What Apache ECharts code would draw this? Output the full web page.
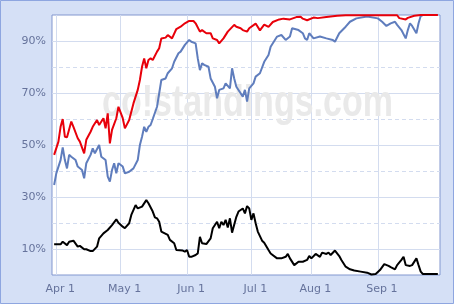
<!DOCTYPE html>
<html>
<head>
<meta charset="utf-8">
<script src="https://cdn.jsdelivr.net/npm/echarts@6/dist/echarts.min.js"></script>
<style>
html,body{margin:0;padding:0;background:#d5e0f6;}
#chart{width:454px;height:304px;}
</style>
</head>
<body>
<div id="chart"></div>
<script>
// Date categories (game-day calendar, All-Star break skipped)
const monthSpans = [['Mar',30,31],['Apr',1,30],['May',1,31],['Jun',1,30],['Jul',1,31],['Aug',1,31],['Sep',1,30]];
const breakDays = ['Jul 14','Jul 15','Jul 16'];
const categories = [];
monthSpans.forEach(([m,a,b]) => { for (let d=a; d<=b; d++){ const s=m+' '+d; if(!breakDays.includes(s)) categories.push(s);} });

const yTickLabels = ['10%','30%','50%','70%','90%'];
const watermarkText = 'co!standings.com';

// Red series (day index, %)
const redDays = [1,3,4,5,6,7,9,10,12,13,15,16,18,19,21,22,24,25,26,27,28,30,31,33,34,36,38,40,41,42,43,44,45,46,47,49,50,51,53,54,56,58,60,62,64,66,67,69,70,72,74,75,77,78,80,82,85,86,88,89,91,92,95,97,99,101,103,106,108,111,114,116,117,119,122,124,128,133,137,161,162,165,166,169,172,180];
const redVals = [46.2,51.3,57,60,53.2,53,59,57,52.6,51.3,46.8,52,55.1,57,59.6,57.7,60.3,56.4,62.2,50.6,55.8,60.3,64.7,60.3,56.4,59.6,66,71.2,75,80.1,83.3,79.5,82.7,83.3,82.7,85.9,87.2,91,91.3,92.3,91,94.6,95.5,96.8,97.7,97.7,96.8,93.6,94.2,93,93,91,90.4,89.1,91,93.6,96.2,95.5,94.9,94.2,93.6,94.9,96.7,94.1,96.3,95.4,97.3,98.3,98.6,98.3,99.2,99.3,98.6,98,99,98.8,99.2,99.7,99.9,99.9,98.8,98.3,98.9,99.7,100,100];

// Blue series
const blueDays = [1,2,4,5,6,7,8,9,11,12,14,15,16,18,19,20,22,23,25,26,27,28,29,30,31,33,34,36,38,40,41,42,43,44,45,46,47,49,51,53,54,56,57,59,60,62,64,65,67,68,69,70,71,73,74,76,77,78,80,81,83,84,85,86,88,89,90,91,92,94,95,97,99,101,102,105,107,109,111,112,115,117,118,119,120,122,125,128,131,132,134,137,139,142,147,152,154,156,158,160,161,163,165,166,167,168,170,171,172,173,180];
const blueVals = [34.6,39.1,44.2,49.1,44.2,41,46.2,45.5,44.2,41.7,40.4,37.2,43,46.2,48.7,46.8,50,45.5,44.2,37.8,35.9,40.4,43,39.1,43,41.7,39.1,39.7,41,44.2,50,53.2,57,55.1,57,57.7,60,64.7,75,75.6,77.6,79.5,82,85.3,85.9,88.5,90.4,89.7,89.1,83.3,78.8,81.4,80.8,80.1,75.6,72.4,68,71.2,71.8,73.7,71.8,79.5,75.6,72.4,69.9,68.6,71.2,66.7,71.8,73.7,76.3,77.6,82,84.6,87.8,91.7,92.3,90.4,91.7,94.9,94.2,93,91,90.4,93,91,91.7,91,90.4,89.7,93,95.5,97.4,98.7,99.4,98.7,97.4,95.8,96.8,97.4,96.2,94.2,91,94.2,96.8,95.8,93,96.8,99.6,100,100];

// Black series
const blackDays = [1,4,5,7,8,10,12,13,15,16,18,19,21,22,24,26,28,30,31,33,34,36,37,39,40,42,44,45,47,48,49,50,51,54,55,57,58,61,62,63,64,65,67,68,69,70,72,74,75,77,78,79,80,81,82,83,84,86,87,89,90,91,92,93,94,95,96,98,99,101,102,105,107,109,110,111,113,115,117,119,120,121,123,125,126,128,129,130,132,134,135,137,139,141,144,147,149,151,153,155,157,158,160,161,163,164,165,167,168,170,171,172,173,180];
const blackVals = [11.8,11.8,12.8,11.5,12.8,13.2,10.9,11.2,9.9,9.9,9.2,9.2,10.9,14.1,16,17.3,19.2,21.4,20.1,18.6,18,19.9,23.1,26.9,25.6,26.3,28.8,27.6,24.4,22.2,21.8,20.5,16.7,15.4,13.5,12.2,9.6,9.4,9,9.6,7,7,7.7,8.3,14.7,12.2,11.9,14.1,18,20.5,18,20.5,19.2,21.2,18.3,21.8,16.3,22.4,24.4,25.6,23.7,26.5,25.6,21.2,23.7,19.9,16.7,13.2,12.4,9.6,8.3,6.4,6.4,7,8.1,6.4,3.8,5.1,5.1,5.8,7.3,6.4,8.1,7,8.6,8.1,8.6,7.7,9.4,7.3,5.8,3.2,2.2,1.7,1.3,0.9,0.2,0.4,1.9,4.2,3.5,3,2.2,3.8,5.8,7,3.8,3.5,3.8,6.4,3.8,1.3,0.4,0.4];

const zip = (xs, ys) => xs.map((x, i) => [x, ys[i]]);
const isMonthStart = (i, v) => / 1$/.test(v);
const gridColor = '#d3dcef';
const T = 'rgba(0,0,0,0)';

const chart = echarts.init(document.getElementById('chart'), null, {renderer:'canvas'});
chart.setOption({
  animation: false,
  backgroundColor: '#d5e0f6',
  grid: {left: 52, top: 15, right: 14, bottom: 29, show: true, backgroundColor: '#ffffff', borderColor: '#8297cf', borderWidth: 1},
  graphic: [
    {type: 'rect', silent: true, z: 100, shape: {x: 0.5, y: 0.5, width: 453, height: 303}, style: {fill: null, stroke: '#8ea6e0', lineWidth: 1}},
    {type: 'text', silent: true, z: 1, x: 102, y: 149, originX: 102, originY: 149, scaleY: 1.3,
     style: {text: watermarkText, font: 'bold 34px "Liberation Sans", Arial, sans-serif', fill: '#e9e9e9', verticalAlign: 'middle', textVerticalAlign: 'middle'}}
  ],
  xAxis: {
    type: 'category', data: categories, boundaryGap: false,
    axisLine: {show: false}, axisTick: {show: false},
    axisLabel: {interval: isMonthStart, color: '#66739c', fontFamily: 'DejaVu Sans', fontSize: 11, margin: 9, padding: [0,0,0,8], formatter: v => v},
    splitLine: {show: true, interval: isMonthStart, lineStyle: {color: gridColor, width: 1}}
  },
  yAxis: [
    {type: 'value', min: 0, max: 100, interval: 10,
     axisLine: {show: false}, axisTick: {show: false},
     axisLabel: {color: '#66739c', fontFamily: 'DejaVu Sans', fontSize: 11, margin: 6,
       formatter: v => yTickLabels.includes(v + '%') ? v + '%' : ''},
     splitLine: {show: true, lineStyle: {color: [T, gridColor], width: 1}}},
    {type: 'value', min: 0, max: 100, interval: 20, position: 'left',
     axisLine: {show: false}, axisTick: {show: false}, axisLabel: {show: false},
     splitLine: {show: true, lineStyle: {color: [T, gridColor, gridColor, gridColor, gridColor, T], type: [4, 3], width: 1}}}
  ],
  series: [
    {type: 'line', data: zip(blackDays, blackVals), showSymbol: false, lineStyle: {color: '#000000', width: 2}, z: 3},
    {type: 'line', data: zip(blueDays, blueVals), showSymbol: false, lineStyle: {color: '#5f7dbd', width: 2}, z: 4},
    {type: 'line', data: zip(redDays, redVals), showSymbol: false, lineStyle: {color: '#e8000a', width: 2}, z: 5}
  ]
});
</script>
</body>
</html>
